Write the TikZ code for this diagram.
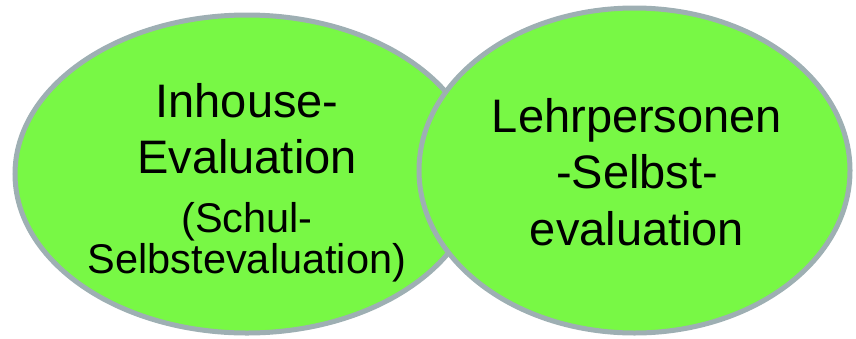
\documentclass[tikz,border=0pt]{standalone}
\usepackage{fontspec}
\setmainfont{Liberation Sans}
\definecolor{leaf}{HTML}{78F845}
\definecolor{rim}{HTML}{9EAFB3}
\begin{document}
\begin{tikzpicture}[x=1pt,y=-1pt,
  bubble/.style={ellipse, draw=rim, fill=leaf, line width=5pt, inner sep=0pt},
  bigline/.style={anchor=base, inner sep=0pt, font=\fontsize{47}{56}\selectfont},
  smallline/.style={anchor=base, inner sep=0pt, font=\fontsize{41.5}{48}\selectfont}]
\useasboundingbox (0,0) rectangle (856,338);
% left bubble: school self-evaluation
\draw[draw=rim, fill=leaf, line width=5pt] (247,174) ellipse [x radius=232, y radius=159];
\node[bigline]   (l1) at (247,117) {Inhouse-};
\node[bigline]   (l2) at (247,173) {Evaluation};
\node[smallline] (l3) at (247,232) {(Schul-};
\node[smallline] (l4) at (247,273) {Selbstevaluation)};
% right bubble: teacher self-evaluation, drawn on top
\draw[draw=rim, fill=leaf, line width=5pt] (634.5,170.5) ellipse [x radius=215.5, y radius=162.5];
\node[bigline] (r1) at (637,132) {Lehrpersonen};
\node[bigline] (r2) at (637,188) {-Selbst-};
\node[bigline] (r3) at (637,245) {evaluation};
\end{tikzpicture}
\end{document}
